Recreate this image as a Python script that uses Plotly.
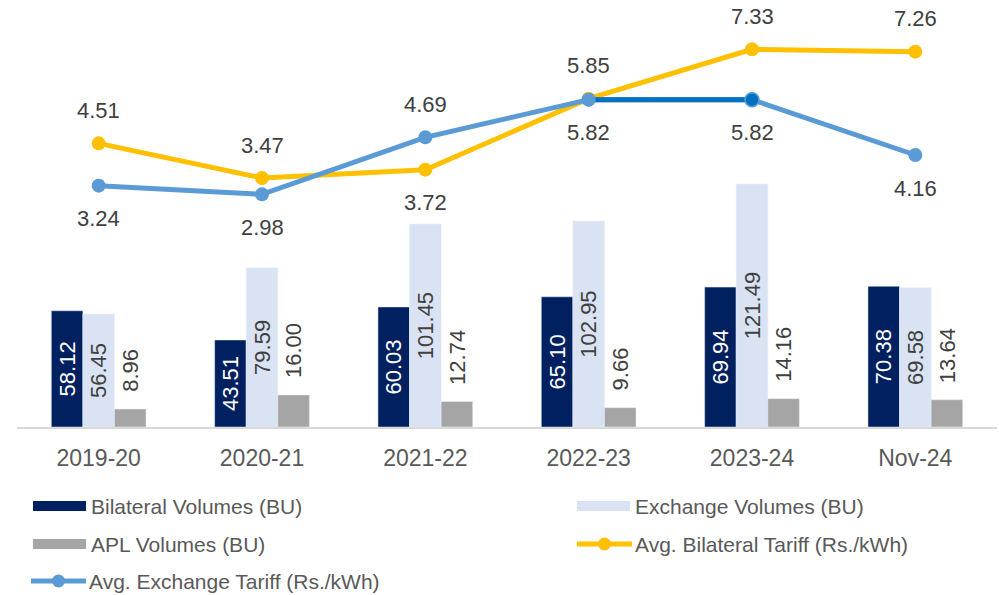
import plotly.graph_objects as go

categories = ["2019-20", "2020-21", "2021-22", "2022-23", "2023-24", "Nov-24"]
bilateral_vol = [58.12, 43.51, 60.03, 65.10, 69.94, 70.38]
exchange_vol = [56.45, 79.59, 101.45, 102.95, 121.49, 69.58]
apl_vol = [8.96, 16.00, 12.74, 9.66, 14.16, 13.64]
bilateral_tariff = [4.51, 3.47, 3.72, 5.85, 7.33, 7.26]
exchange_tariff = [3.24, 2.98, 4.69, 5.82, 5.82, 4.16]
bil_label_pos = ["above", "above", "below", "above", "above", "above"]
exc_label_pos = ["below", "below", "above", "below", "below", "below"]

C_BIL = "#002060"
C_EXC = "#DAE3F3"
C_APL = "#A5A5A5"
C_GOLD = "#FFC000"
C_BLUE = "#5B9BD5"
C_DBLUE = "#0070C0"
TXT = "#404040"
FONT = "Liberation Sans, Arial, sans-serif"
LBL = 22

W, H = 999, 595
ML, MR, MT, MB = 17, 2, 27, 168
PW = W - ML - MR
PH = H - MT - MB

fig = go.Figure()

fig.add_trace(go.Bar(
    x=categories, y=bilateral_vol, name="Bilateral Volumes (BU)",
    marker_color=C_BIL, text=[f"{v:.2f}" for v in bilateral_vol],
    textposition="inside", insidetextanchor="middle", textangle=-90,
    insidetextfont=dict(color="white", size=LBL, family=FONT),
    constraintext="none", showlegend=False))
fig.add_trace(go.Bar(
    x=categories, y=exchange_vol, name="Exchange Volumes (BU)",
    marker_color=C_EXC, text=[f"{v:.2f}" for v in exchange_vol],
    textposition="inside", insidetextanchor="middle", textangle=-90,
    insidetextfont=dict(color=TXT, size=LBL, family=FONT),
    constraintext="none", showlegend=False))
fig.add_trace(go.Bar(
    x=categories, y=apl_vol, name="APL Volumes (BU)",
    marker_color=C_APL, showlegend=False))

fig.add_trace(go.Scatter(
    x=categories, y=bilateral_tariff, yaxis="y2", mode="lines+markers",
    name="Avg. Bilateral Tariff (Rs./kWh)",
    line=dict(color=C_GOLD, width=5), marker=dict(size=14, color=C_GOLD),
    showlegend=False))
fig.add_trace(go.Scatter(
    x=categories, y=exchange_tariff, yaxis="y2", mode="lines+markers",
    name="Avg. Exchange Tariff (Rs./kWh)",
    line=dict(color=C_BLUE, width=5), marker=dict(size=14, color=C_BLUE),
    showlegend=False))
# highlighted segment
fig.add_trace(go.Scatter(
    x=categories[3:5], y=exchange_tariff[3:5], yaxis="y2", mode="lines",
    line=dict(color=C_DBLUE, width=5), showlegend=False, hoverinfo="skip"))
fig.add_trace(go.Scatter(
    x=categories[3:4], y=exchange_tariff[3:4], yaxis="y2", mode="markers",
    marker=dict(size=14, color=C_BLUE), showlegend=False, hoverinfo="skip"))
fig.add_trace(go.Scatter(
    x=categories[4:5], y=exchange_tariff[4:5], yaxis="y2", mode="markers",
    marker=dict(size=14, color=C_DBLUE, line=dict(color=C_BLUE, width=1.5)),
    showlegend=False, hoverinfo="skip"))

annotations = []
# APL labels above bars
bar_w = PW / len(categories) * (1 - 0.42) / 3
for c, v in zip(categories, apl_vol):
    annotations.append(dict(
        x=c, y=v, xref="x", yref="y", text=f"{v:.2f}", showarrow=False,
        textangle=-90, yanchor="bottom", yshift=15, xshift=bar_w,
        font=dict(size=LBL, color=TXT, family=FONT)))
# line labels
for series, pos in ((bilateral_tariff, bil_label_pos), (exchange_tariff, exc_label_pos)):
    for c, v, p in zip(categories, series, pos):
        annotations.append(dict(
            x=c, y=v, xref="x", yref="y2", text=f"{v:.2f}", showarrow=False,
            yanchor="middle", yshift=33 if p == "above" else -33,
            font=dict(size=LBL, color=TXT, family=FONT)))

# custom legend
def px_x(px):
    return (px - ML) / PW

def px_y(py):
    return (H - MB - py) / PH

shapes = []
legend_items = [
    ("rect", C_BIL, "Bilateral Volumes (BU)", 33, 506),
    ("rect", C_EXC, "Exchange Volumes (BU)", 577, 506),
    ("rect", C_APL, "APL Volumes (BU)", 33, 544),
    ("line", C_GOLD, "Avg. Bilateral Tariff (Rs./kWh)", 577, 544),
    ("line", C_BLUE, "Avg. Exchange Tariff (Rs./kWh)", 31, 581),
]
for kind, col, label, x0, yc in legend_items:
    if kind == "rect":
        shapes.append(dict(type="rect", xref="paper", yref="paper",
                           x0=px_x(x0), x1=px_x(x0 + 53), y0=px_y(yc - 5), y1=px_y(yc + 5),
                           fillcolor=col, line=dict(width=0)))
    else:
        shapes.append(dict(type="line", xref="paper", yref="paper",
                           x0=px_x(x0), x1=px_x(x0 + 55), y0=px_y(yc), y1=px_y(yc),
                           line=dict(color=col, width=5)))
        shapes.append(dict(type="circle", xref="paper", yref="paper",
                           x0=px_x(x0 + 21), x1=px_x(x0 + 34), y0=px_y(yc + 6.5), y1=px_y(yc - 6.5),
                           fillcolor=col, line=dict(width=0)))
    annotations.append(dict(
        x=px_x(x0 + 56), y=px_y(yc), xref="paper", yref="paper", text=label,
        showarrow=False, xanchor="left", yanchor="middle",
        font=dict(size=21, color="#595959", family=FONT)))

fig.update_layout(
    width=W, height=H,
    margin=dict(l=ML, r=MR, t=MT, b=MB),
    paper_bgcolor="white", plot_bgcolor="white",
    barmode="group", bargap=0.42, bargroupgap=0,
    font=dict(family=FONT, color=TXT),
    xaxis=dict(type="category", showgrid=False, showline=True, linecolor="#D9D9D9",
               linewidth=1.5, ticks="", ticklabelstandoff=10,
               tickfont=dict(size=23, color="#595959", family=FONT)),
    yaxis=dict(range=[0, 200], visible=False, showgrid=False),
    yaxis2=dict(range=[-4, 8], overlaying="y", visible=False, showgrid=False),
    showlegend=False,
    annotations=annotations,
    shapes=shapes,
)

fig.write_html("out.html", config={"displayModeBar": False},
               post_script="document.body.style.margin='0';document.body.style.overflow='hidden';")
